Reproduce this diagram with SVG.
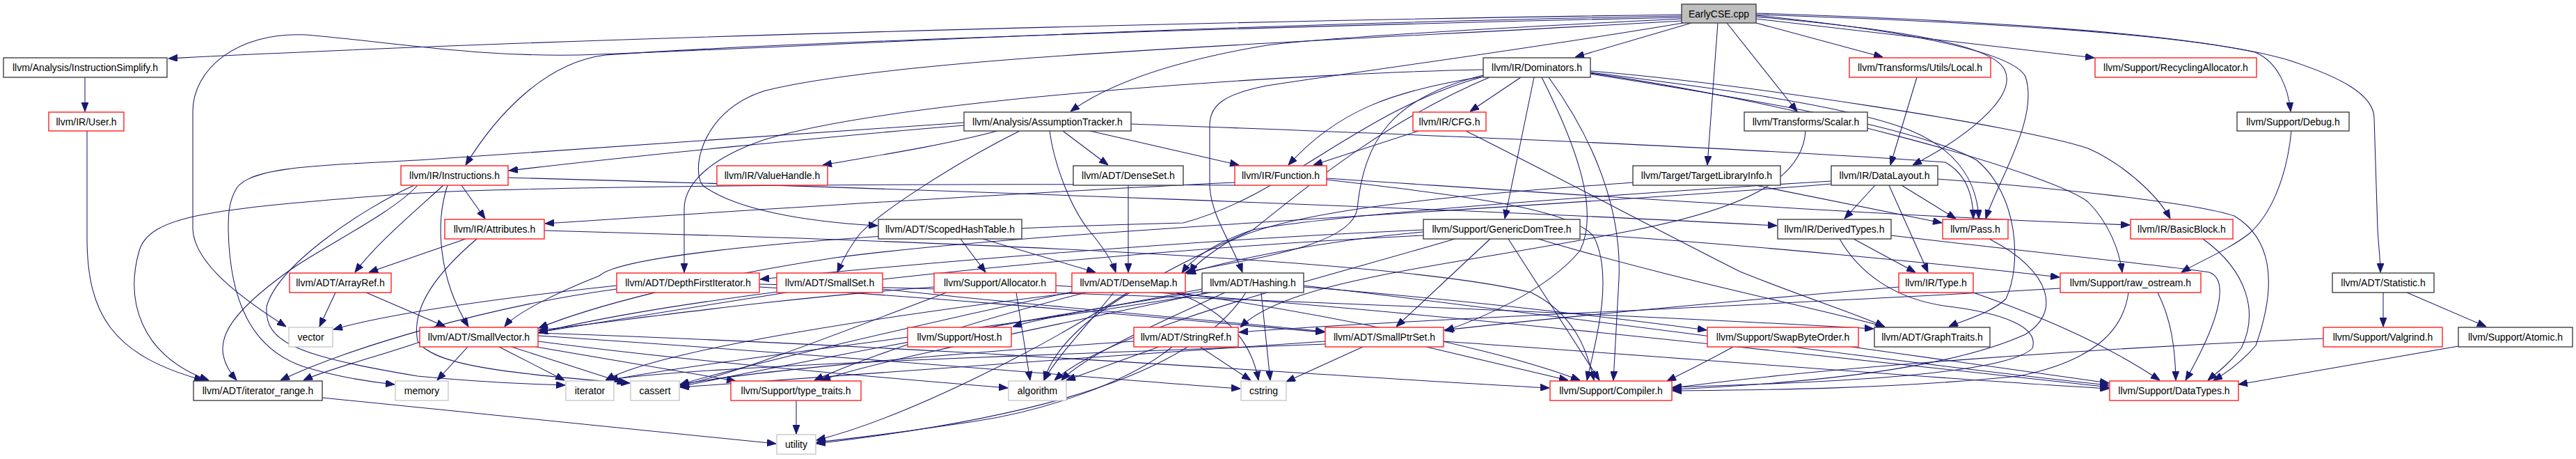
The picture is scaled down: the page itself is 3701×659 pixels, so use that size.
<svg xmlns="http://www.w3.org/2000/svg" width="3701" height="659" viewBox="0 0 3701 659">
<style>
.n rect{fill:#fff;stroke:#404040;stroke-width:1.4}
.r rect{stroke:#ff2020}
.x rect{stroke:#c8c8c8}
.root rect{fill:#bfbfbf}
text{font-family:"Liberation Sans",Arial,sans-serif;font-size:14px;text-anchor:middle;fill:#000}
#edges path{fill:none;stroke:#191970;stroke-width:1.05;marker-end:url(#a)}
</style>
<defs>
<marker id="a" viewBox="0 0 13 10" refX="13" refY="5" markerWidth="13" markerHeight="10" markerUnits="userSpaceOnUse" orient="auto">
<path d="M0,0 L13,5 L0,10 z" fill="#191970" stroke="#191970" stroke-width="1"/>
</marker>
</defs>
<rect width="3701" height="659" fill="#fff"/>
<g id="edges">
<path d="M2416,21 C1900,28 900,50 242,84"/>
<path d="M2416,23 C1700,35 1100,70 860,78 C700,85 560,60 440,50 C340,45 277,100 277,160 L277,330 C280,380 350,430 411,469"/>
<path d="M2416,25 C1800,38 1100,62 870,79 C780,90 710,170 669,237"/>
<path d="M2416,27 C2150,40 1900,55 1820,65 C1700,85 1600,115 1538,160"/>
<path d="M2416,30 C1900,60 1300,80 1100,130 C1000,160 990,260 1015,270 C1060,300 1150,318 1261,324"/>
<path d="M2418,33 C2200,70 1900,110 1820,123 C1760,135 1738,150 1738,180 L1738,267 C1740,310 1770,350 1785,391"/>
<path d="M2523,19 C2800,28 3150,45 3290,87 C3360,110 3411,135 3411,170 L3416,330 C3418,360 3420,375 3420,391"/>
<path d="M2523,21 C2800,30 3100,45 3240,75 C3275,90 3288,130 3291,160"/>
<path d="M2481,33 L2582,160"/>
<path d="M2468,33 L2453,237"/>
<path d="M2523,24 C2700,40 2860,60 2880,100 C2900,140 2820,200 2748,237"/>
<path d="M2523,22 C2700,40 2890,70 2910,110 C2930,170 2870,260 2853,314"/>
<path d="M2523,33 L2705,82"/>
<path d="M2523,27 L3009,83"/>
<path d="M2430,33 L2263,82"/>
<path d="M122,111 L122,160"/>
<path d="M125,188 L125,340 C125,450 160,510 292,546"/>
<path d="M2185,111 L2112,160"/>
<path d="M2131,110 C2000,130 1920,160 1851,237"/>
<path d="M2204,111 L2162,314"/>
<path d="M2131,108 C2000,140 1960,200 1950,300 C1940,360 1760,375 1702,392"/>
<path d="M2131,110 C1950,160 1850,280 1700,320 C1300,330 900,360 861,396 C800,420 740,450 725,469"/>
<path d="M2131,100 C1900,104 1300,140 1100,200 C1010,230 983,270 983,300 L983,391"/>
<path d="M2285,106 C2500,140 2750,180 2840,230 C2900,280 2905,380 2882,429 C2860,450 2820,460 2800,469"/>
<path d="M2215,111 C2260,200 2300,300 2270,360 C2220,420 2120,460 2076,475"/>
<path d="M2285,102 C2500,120 2900,180 3000,213 C3050,235 3100,280 3118,314"/>
<path d="M2285,105 C2600,150 2950,250 3000,290 C3030,320 3045,360 3049,391"/>
<path d="M2285,104 C2450,125 2650,150 2744,187 C2800,210 2840,250 2843,314"/>
<path d="M2225,111 C2290,200 2330,300 2326,400 L2318,546"/>
<path d="M2140,111 C2000,170 1900,250 1800,330 C1600,420 1520,480 1500,546"/>
<path d="M2038,188 L1887,237"/>
<path d="M2106,188 C2250,260 2400,340 2500,390 C2600,430 2680,455 2707,469"/>
<path d="M1385,180 C1200,195 900,225 731,245"/>
<path d="M1433,188 C1350,210 1250,225 1182,237"/>
<path d="M1527,188 L1592,237"/>
<path d="M1566,188 L1780,237"/>
<path d="M1465,188 C1380,230 1270,300 1236,335 C1220,355 1210,375 1203,391"/>
<path d="M1508,188 C1515,240 1540,300 1564,330 C1585,355 1598,375 1603,391"/>
<path d="M1625,178 C1800,185 2400,205 2795,233 C2825,250 2835,280 2835,314"/>
<path d="M1385,176 C1000,200 700,225 600,230 C450,238 360,240 340,270 C328,290 328,310 328,330 C330,430 360,500 435,526 C480,540 520,547 567,552"/>
<path d="M1621,266 L1621,391"/>
<path d="M1774,262 C1500,275 1100,300 783,321"/>
<path d="M1774,266 C1300,262 700,268 560,280 C300,300 215,310 200,360 C180,430 200,510 300,546"/>
<path d="M1906,256 C2200,275 2700,310 3060,323"/>
<path d="M1906,258 C2100,280 2260,300 2290,340 C2320,400 2290,500 2280,546"/>
<path d="M2522,266 L2790,320"/>
<path d="M2346,262 C2100,280 1850,300 1760,350 C1730,370 1715,382 1710,392"/>
<path d="M2694,266 L2650,314"/>
<path d="M2732,266 L2810,314"/>
<path d="M2714,266 L2770,391"/>
<path d="M2784,257 C2950,270 3150,290 3210,310 C3260,340 3275,400 3241,496 C3220,520 3200,535 3180,546"/>
<path d="M2631,260 C2300,280 1900,310 1800,330 C1740,350 1710,375 1698,392"/>
<path d="M2631,264 C2200,300 1500,330 1200,370 C1000,400 850,440 774,471"/>
<path d="M2754,111 L2716,237"/>
<path d="M3292,188 C3285,260 3260,310 3232,335 C3200,360 3160,375 3134,391"/>
<path d="M2594,188 C2590,260 2500,300 2350,330 C2100,380 1850,400 1782,470"/>
<path d="M663,266 L697,314"/>
<path d="M637,266 C600,300 540,350 510,391"/>
<path d="M643,266 C625,320 630,400 673,469"/>
<path d="M595,266 C520,300 400,380 383,440 C380,490 420,510 600,540 C700,550 780,552 812,553"/>
<path d="M600,266 C560,310 450,360 400,400 C320,460 300,500 340,546"/>
<path d="M730,255 C1300,270 2100,300 2553,324"/>
<path d="M2663,343 L2752,391"/>
<path d="M2643,343 C2670,390 2720,430 2800,440 C2880,450 2930,470 2920,500 C2880,540 2600,550 2403,556"/>
<path d="M2717,338 C2900,360 3100,380 3174,391 C3200,400 3195,450 3140,546"/>
<path d="M2858,343 C2950,390 2960,450 2910,480 C2800,530 2600,550 2403,559"/>
<path d="M3165,343 C3230,390 3245,450 3220,500 C3200,525 3185,535 3172,546"/>
<path d="M1380,343 L1416,391"/>
<path d="M1412,343 L1574,391"/>
<path d="M2141,343 L2006,469"/>
<path d="M2167,343 L2298,546"/>
<path d="M2270,336 C2500,350 2800,380 2959,398"/>
<path d="M2210,343 C2400,400 2600,440 2708,469"/>
<path d="M2045,333 C1900,345 1760,375 1705,393"/>
<path d="M2045,330 C1700,345 1300,380 1092,401"/>
<path d="M2045,338 C1600,360 1000,420 774,478"/>
<path d="M2090,343 C1900,400 1600,470 1515,546"/>
<path d="M1091,412 C1400,430 1700,460 1903,477"/>
<path d="M1091,408 C1600,420 2300,450 2692,472"/>
<path d="M886,415 C700,440 500,500 403,546"/>
<path d="M886,410 C700,430 560,450 479,473"/>
<path d="M482,420 L459,469"/>
<path d="M526,420 L640,469"/>
<path d="M669,343 L530,391"/>
<path d="M685,343 C630,390 590,440 600,490 C620,520 700,535 905,550"/>
<path d="M782,331 C1300,345 2000,370 2200,420 C2260,450 2280,500 2290,546"/>
<path d="M1268,415 C1500,440 1800,465 1903,476"/>
<path d="M1130,420 C1000,440 850,465 774,477"/>
<path d="M1342,412 C1100,430 900,460 774,474"/>
<path d="M1517,410 C2000,440 2700,520 3030,556"/>
<path d="M1460,420 L1480,546"/>
<path d="M1360,420 C1200,480 1050,540 977,553"/>
<path d="M1690,420 C1900,450 2150,500 2270,546"/>
<path d="M1560,420 C1400,460 1250,510 1170,546"/>
<path d="M1600,420 C1560,470 1520,510 1500,546"/>
<path d="M1545,418 C1300,470 1050,530 977,552"/>
<path d="M1690,420 C1770,450 1800,500 1808,546"/>
<path d="M1545,420 C1300,450 950,500 870,546"/>
<path d="M1620,420 C1500,500 1300,600 1173,632"/>
<path d="M1873,410 C2300,460 2800,530 3030,553"/>
<path d="M1727,415 C1600,440 1500,455 1455,469"/>
<path d="M1873,412 C2100,430 2350,460 2452,474"/>
<path d="M1735,420 C1500,470 1250,520 1180,546"/>
<path d="M1760,420 C1650,470 1560,510 1525,546"/>
<path d="M1730,418 C1400,470 1100,530 977,555"/>
<path d="M1812,420 L1825,546"/>
<path d="M1740,420 C1450,470 1000,520 875,546"/>
<path d="M1790,420 C1700,560 1400,610 1173,637"/>
<path d="M1665,498 L1532,546"/>
<path d="M1724,498 L1797,546"/>
<path d="M1684,498 C1620,550 1500,590 1400,605 C1300,620 1220,630 1173,635"/>
<path d="M1629,490 C1400,505 1100,530 977,552"/>
<path d="M1958,498 L1848,548"/>
<path d="M2049,498 L2253,546"/>
<path d="M1904,490 C1600,510 1200,540 977,556"/>
<path d="M1904,494 C1500,510 1000,525 870,546"/>
<path d="M2074,490 C2500,520 2800,545 3030,558"/>
<path d="M2660,498 L3030,550"/>
<path d="M2490,498 C2450,520 2420,535 2395,547"/>
<path d="M2835,420 C2920,450 3020,490 3103,546"/>
<path d="M2728,412 C2400,440 2200,460 2075,474"/>
<path d="M3100,420 C3120,460 3125,500 3126,546"/>
<path d="M3058,420 C3050,480 3000,520 2900,540 C2700,560 2500,560 2403,561"/>
<path d="M2960,414 C2500,440 2000,460 1780,477"/>
<path d="M3424,420 L3424,469"/>
<path d="M3458,420 L3572,469"/>
<path d="M3338,486 C3000,500 2600,530 2403,557"/>
<path d="M3532,497 L3216,552"/>
<path d="M606,490 C550,510 470,530 436,546"/>
<path d="M672,498 L628,546"/>
<path d="M717,498 L811,546"/>
<path d="M735,498 L900,551"/>
<path d="M770,498 L1057,547"/>
<path d="M773,490 C1000,520 1300,545 1448,557"/>
<path d="M773,482 C1200,510 1600,545 1782,558"/>
<path d="M773,478 C1400,500 1900,540 2226,557"/>
<path d="M463,571 C700,595 1000,625 1115,637"/>
<path d="M1144,575 L1144,623"/>
</g>
<g id="n_earlycse" class="n root"><rect x="2416" y="6" width="107" height="27"/><text x="2469.5" y="25">EarlyCSE.cpp</text></g>
<g id="n_instsimp" class="n"><rect x="5" y="83" width="235" height="28"/><text x="122.5" y="102">llvm/Analysis/InstructionSimplify.h</text></g>
<g id="n_dominators" class="n"><rect x="2131" y="83" width="154" height="28"/><text x="2208" y="102">llvm/IR/Dominators.h</text></g>
<g id="n_local" class="n r"><rect x="2657" y="83" width="203" height="28"/><text x="2758.5" y="102">llvm/Transforms/Utils/Local.h</text></g>
<g id="n_recalloc" class="n r"><rect x="3010" y="83" width="232" height="28"/><text x="3126" y="102">llvm/Support/RecyclingAllocator.h</text></g>
<g id="n_user" class="n r"><rect x="70" y="161" width="108" height="27"/><text x="124" y="180">llvm/IR/User.h</text></g>
<g id="n_assumpt" class="n"><rect x="1385" y="161" width="240" height="27"/><text x="1505" y="180">llvm/Analysis/AssumptionTracker.h</text></g>
<g id="n_cfg" class="n r"><rect x="2030" y="161" width="105" height="27"/><text x="2082.5" y="180">llvm/IR/CFG.h</text></g>
<g id="n_scalar" class="n"><rect x="2506" y="161" width="177" height="27"/><text x="2594.5" y="180">llvm/Transforms/Scalar.h</text></g>
<g id="n_debug" class="n"><rect x="3214" y="161" width="161" height="27"/><text x="3294.5" y="180">llvm/Support/Debug.h</text></g>
<g id="n_instructions" class="n r"><rect x="576" y="238" width="154" height="28"/><text x="653" y="257">llvm/IR/Instructions.h</text></g>
<g id="n_valuehandle" class="n r"><rect x="1030" y="238" width="159" height="28"/><text x="1109.5" y="257">llvm/IR/ValueHandle.h</text></g>
<g id="n_denseset" class="n"><rect x="1542" y="238" width="158" height="28"/><text x="1621" y="257">llvm/ADT/DenseSet.h</text></g>
<g id="n_function" class="n r"><rect x="1774" y="238" width="132" height="28"/><text x="1840" y="257">llvm/IR/Function.h</text></g>
<g id="n_tli" class="n"><rect x="2346" y="238" width="212" height="28"/><text x="2452" y="257">llvm/Target/TargetLibraryInfo.h</text></g>
<g id="n_datalayout" class="n"><rect x="2631" y="238" width="153" height="28"/><text x="2707.5" y="257">llvm/IR/DataLayout.h</text></g>
<g id="n_attributes" class="n r"><rect x="639" y="315" width="143" height="28"/><text x="710.5" y="334">llvm/IR/Attributes.h</text></g>
<g id="n_scopedht" class="n"><rect x="1262" y="315" width="206" height="28"/><text x="1365" y="334">llvm/ADT/ScopedHashTable.h</text></g>
<g id="n_gdt" class="n"><rect x="2045" y="315" width="225" height="28"/><text x="2157.5" y="334">llvm/Support/GenericDomTree.h</text></g>
<g id="n_derivedtypes" class="n"><rect x="2554" y="315" width="163" height="28"/><text x="2635.5" y="334">llvm/IR/DerivedTypes.h</text></g>
<g id="n_pass" class="n r"><rect x="2791" y="315" width="94" height="28"/><text x="2838" y="334">llvm/Pass.h</text></g>
<g id="n_basicblock" class="n r"><rect x="3061" y="315" width="147" height="28"/><text x="3134.5" y="334">llvm/IR/BasicBlock.h</text></g>
<g id="n_arrayref" class="n r"><rect x="416" y="392" width="146" height="28"/><text x="489" y="411">llvm/ADT/ArrayRef.h</text></g>
<g id="n_dfi" class="n r"><rect x="886" y="392" width="205" height="28"/><text x="988.5" y="411">llvm/ADT/DepthFirstIterator.h</text></g>
<g id="n_smallset" class="n r"><rect x="1116" y="392" width="152" height="28"/><text x="1192" y="411">llvm/ADT/SmallSet.h</text></g>
<g id="n_allocator" class="n r"><rect x="1342" y="392" width="175" height="28"/><text x="1429.5" y="411">llvm/Support/Allocator.h</text></g>
<g id="n_densemap" class="n r"><rect x="1540" y="392" width="163" height="28"/><text x="1621.5" y="411">llvm/ADT/DenseMap.h</text></g>
<g id="n_hashing" class="n"><rect x="1727" y="392" width="146" height="28"/><text x="1800" y="411">llvm/ADT/Hashing.h</text></g>
<g id="n_type" class="n r"><rect x="2728" y="392" width="107" height="28"/><text x="2781.5" y="411">llvm/IR/Type.h</text></g>
<g id="n_rawostream" class="n r"><rect x="2960" y="392" width="202" height="28"/><text x="3061" y="411">llvm/Support/raw_ostream.h</text></g>
<g id="n_statistic" class="n"><rect x="3351" y="392" width="146" height="28"/><text x="3424" y="411">llvm/ADT/Statistic.h</text></g>
<g id="n_vector" class="n x"><rect x="415" y="470" width="63" height="28"/><text x="446.5" y="489">vector</text></g>
<g id="n_smallvector" class="n r"><rect x="603" y="470" width="170" height="28"/><text x="688" y="489">llvm/ADT/SmallVector.h</text></g>
<g id="n_host" class="n r"><rect x="1304" y="470" width="149" height="28"/><text x="1378.5" y="489">llvm/Support/Host.h</text></g>
<g id="n_stringref" class="n r"><rect x="1629" y="470" width="150" height="28"/><text x="1704" y="489">llvm/ADT/StringRef.h</text></g>
<g id="n_smallptrset" class="n r"><rect x="1904" y="470" width="170" height="28"/><text x="1989" y="489">llvm/ADT/SmallPtrSet.h</text></g>
<g id="n_swapbyteorder" class="n r"><rect x="2453" y="470" width="217" height="28"/><text x="2561.5" y="489">llvm/Support/SwapByteOrder.h</text></g>
<g id="n_graphtraits" class="n"><rect x="2693" y="470" width="166" height="28"/><text x="2776" y="489">llvm/ADT/GraphTraits.h</text></g>
<g id="n_valgrind" class="n r"><rect x="3338" y="470" width="171" height="28"/><text x="3423.5" y="489">llvm/Support/Valgrind.h</text></g>
<g id="n_atomic" class="n"><rect x="3532" y="470" width="164" height="28"/><text x="3614" y="489">llvm/Support/Atomic.h</text></g>
<g id="n_iterrange" class="n"><rect x="278" y="547" width="185" height="28"/><text x="370.5" y="566">llvm/ADT/iterator_range.h</text></g>
<g id="n_memory" class="n x"><rect x="568" y="547" width="76" height="28"/><text x="606" y="566">memory</text></g>
<g id="n_iterator" class="n x"><rect x="813" y="547" width="69" height="28"/><text x="847.5" y="566">iterator</text></g>
<g id="n_cassert" class="n x"><rect x="906" y="547" width="70" height="28"/><text x="941" y="566">cassert</text></g>
<g id="n_typetraits" class="n r"><rect x="1050" y="547" width="187" height="28"/><text x="1143.5" y="566">llvm/Support/type_traits.h</text></g>
<g id="n_algorithm" class="n x"><rect x="1449" y="547" width="83" height="28"/><text x="1490.5" y="566">algorithm</text></g>
<g id="n_cstring" class="n x"><rect x="1783" y="547" width="65" height="28"/><text x="1815.5" y="566">cstring</text></g>
<g id="n_compiler" class="n r"><rect x="2227" y="547" width="175" height="28"/><text x="2314.5" y="566">llvm/Support/Compiler.h</text></g>
<g id="n_datatypes" class="n r"><rect x="3031" y="547" width="185" height="28"/><text x="3123.5" y="566">llvm/Support/DataTypes.h</text></g>
<g id="n_utility" class="n x"><rect x="1116" y="624" width="56" height="28"/><text x="1144" y="643">utility</text></g>
</svg>
